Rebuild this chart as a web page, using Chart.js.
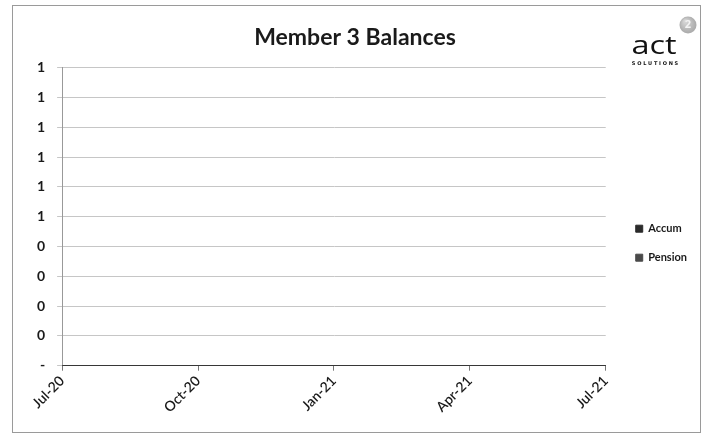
<!DOCTYPE html>
<html>
<head>
<meta charset="utf-8">
<title>Member 3 Balances</title>
<script src="https://cdn.jsdelivr.net/npm/chart.js@4.4.1/dist/chart.umd.min.js"></script>
<style>
  html, body { margin: 0; padding: 0; background: #fff; }
  #wrap { width: 709px; height: 441px; }
</style>
</head>
<body>
<div id="wrap"><canvas id="mycanvas" width="709" height="441"></canvas></div>
<script>
// quarter labels along the bottom
var months = ['Jul-20', 'Oct-20', 'Jan-21', 'Apr-21', 'Jul-21'];
// balances (nothing held yet)
var accum = [0, 0, 0, 0, 0];
var pension = [0, 0, 0, 0, 0];
var yMax = 1;
var yStep = 0.1;

// frame round the whole chart plus the logo in the corner
var framePlugin = {
	id: 'frame',
	beforeDraw: function(chart) {
		var c = chart.ctx;
		c.save();
		c.fillStyle = '#fff';
		c.fillRect(0, 0, chart.width, chart.height);
		c.strokeStyle = '#9a9a9a';
		c.lineWidth = 1;
		c.strokeRect(12.5, 5.5, 688, 427);
		c.restore();
	},
	afterLayout: function(chart) {
		// push the legend a bit further away from the plot
		if (chart.legend) {
			chart.legend.left += 12;
			chart.legend.right += 12;
		}
	},
	afterDraw: function(chart) {
		var c = chart.ctx;
		c.save();
		// "act" wordmark
		c.fillStyle = '#111';
		c.textAlign = 'center';
		c.textBaseline = 'alphabetic';
		c.save();
		c.translate(654, 54);
		c.scale(1.3, 1);
		c.font = '500 25px "Open Sans"';
		c.fillText('act', 0, 0);
		c.restore();
		c.font = 'bold 5px "DejaVu Sans"';
		c.fillText('S O L U T I O N S', 655, 65);
		// little grey badge
		var g = c.createRadialGradient(685, 21, 1, 688, 25, 9);
		g.addColorStop(0, '#d6d6d6');
		g.addColorStop(1, '#a8a8a8');
		c.fillStyle = g;
		c.beginPath();
		c.arc(688, 25, 8.5, 0, Math.PI * 2);
		c.fill();
		c.fillStyle = '#f4f4f4';
		c.font = 'bold 11px "Open Sans"';
		c.textBaseline = 'middle';
		c.fillText('2', 688, 25);
		c.restore();
	}
};

var chartdata = {
	labels: months,
	datasets: [
		{
			label: 'Accum',
			data: accum,
			backgroundColor: '#2b2b2b',
			borderColor: '#2b2b2b',
			borderWidth: 1,
			fill: 'origin',
			pointRadius: 0
		},
		{
			label: 'Pension',
			data: pension,
			backgroundColor: '#4a4a4a',
			borderColor: '#4a4a4a',
			borderWidth: 1,
			fill: '-1',
			pointRadius: 0
		}
	]
};

var ctx = document.getElementById('mycanvas');

var balanceChart = new Chart(ctx, {
	type: 'line',
	data: chartdata,
	plugins: [framePlugin],
	options: {
		responsive: false,
		animation: false,
		layout: { padding: { left: 25, right: 24, top: 20, bottom: 23 } },
		plugins: {
			title: {
				display: true,
				text: 'Member 3 Balances',
				color: '#1a1a1a',
				font: { family: 'Lato', size: 23, weight: 'bold' },
				padding: { top: 4, bottom: 16 }
			},
			legend: {
				position: 'right',
				title: { display: true, text: ' ', padding: { top: 34, bottom: 0 } },
				labels: {
					color: '#1a1a1a',
					font: { family: 'Lato', size: 11, weight: 'bold' },
					usePointStyle: true,
					pointStyle: 'rect',
					boxWidth: 7,
					boxHeight: 7,
					padding: 18
				}
			},
			tooltip: { enabled: false }
		},
		scales: {
			x: {
				offset: false,
				border: { color: '#555', width: 1 },
				grid: { drawOnChartArea: false, drawTicks: true, tickLength: 5, color: '#777' },
				ticks: {
					color: '#1a1a1a',
					font: { family: 'Lato', size: 14, weight: '600' },
					minRotation: 45,
					maxRotation: 45,
					padding: 2
				}
			},
			y: {
				stacked: true,
				min: 0,
				max: yMax,
				border: { color: '#999', width: 1 },
				grid: { color: '#c6c6c6', tickLength: 5 },
				ticks: {
					stepSize: yStep,
					color: '#1a1a1a',
					font: { family: 'Lato', size: 14, weight: 'bold' },
					padding: 12,
					callback: function(value) {
						if (Math.abs(value) < 1e-9) return '-';
						return String(Math.round(value));
					}
				}
			}
		}
	}
});
</script>
</body>
</html>
